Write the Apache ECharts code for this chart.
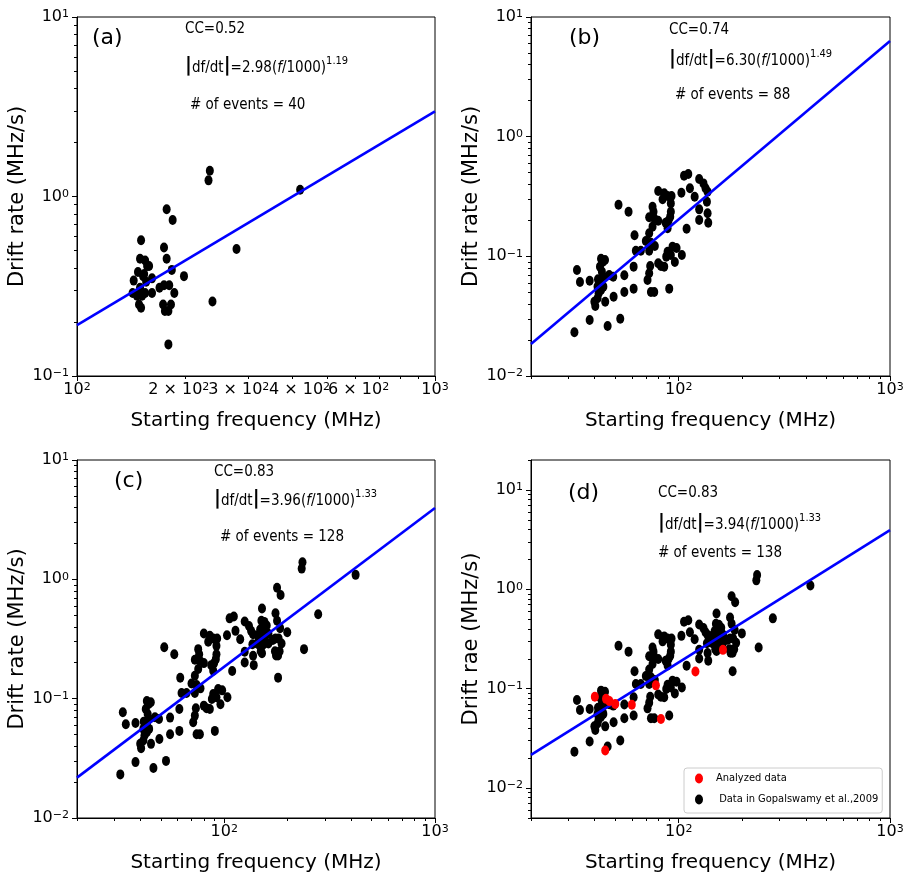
<!DOCTYPE html>
<html>
<head>
<meta charset="utf-8">
<script src="https://cdn.jsdelivr.net/npm/echarts@6/dist/echarts.min.js"></script>
<style>
  html, body { margin: 0; background: #fff; }
  #chart { width: 909px; height: 876px; }
</style>
</head>
<body>
<div id="chart"></div>
<script>
// panel (a): 40 events, [starting frequency MHz, drift rate MHz/s]
const aPoints = [
  [235, 1.39], [233, 1.23], [420, 1.09], [178, 0.85], [185, 0.74], [151, 0.57], [175, 0.52], [279, 0.51],
  [150, 0.45], [178, 0.45], [155, 0.44], [157, 0.41], [148, 0.38], [184, 0.39], [154, 0.37], [144, 0.34],
  [162, 0.35], [199, 0.36], [156, 0.335], [181, 0.32], [170, 0.31], [175, 0.32], [143, 0.29], [150, 0.29],
  [155, 0.29], [162, 0.29], [187, 0.29], [147, 0.28], [152, 0.28], [239, 0.26], [149, 0.25], [174, 0.25],
  [183, 0.25], [151, 0.24], [176, 0.23], [180, 0.23], [180, 0.15], [153, 0.36], [159, 0.41], [150, 0.31]
]
// panel (b): 88 events
const bPoints = [
  [106, 0.471], [111, 0.488], [125, 0.443], [131, 0.407], [134, 0.37], [137, 0.347], [113, 0.37], [103, 0.34],
  [80, 0.352], [85.4, 0.336], [88.6, 0.319], [92.5, 0.319], [83.9, 0.2995], [119, 0.315], [136, 0.286], [51.9, 0.27],
  [57.9, 0.236], [75.2, 0.26], [76, 0.236], [91.8, 0.236], [91.2, 0.2146], [125, 0.247], [137, 0.229], [72.5, 0.212],
  [76.6, 0.2077], [80, 0.1986], [89.5, 0.1986], [86.7, 0.191], [125, 0.201], [138, 0.191], [75.2, 0.177], [88.6, 0.1714],
  [109, 0.1703], [61.8, 0.1498], [69.9, 0.1342], [73.9, 0.13], [77.1, 0.122], [93.5, 0.1205], [97.7, 0.1174], [62.7, 0.1115],
  [66.2, 0.1115], [72.5, 0.1115], [88.6, 0.1094], [91.8, 0.1026], [103.5, 0.1026], [87.3, 0.0994], [95.9, 0.0897], [42.9, 0.0956],
  [43.8, 0.0903], [44.8, 0.0932], [80, 0.0874], [82.4, 0.083], [73.3, 0.083], [85.4, 0.082], [61.2, 0.082], [33, 0.0769],
  [42.4, 0.082], [43.3, 0.0745], [44, 0.0676], [72.5, 0.0721], [71.2, 0.0634], [46.9, 0.0698], [49, 0.0676], [55.3, 0.0694],
  [34.1, 0.061], [37.9, 0.0626], [41.5, 0.0642], [42.9, 0.0614], [44, 0.0558], [42.9, 0.0523], [61.2, 0.0537], [55.3, 0.0504],
  [73.9, 0.0504], [76.6, 0.0504], [90.2, 0.0537], [41.8, 0.0491], [41.3, 0.0446], [49.2, 0.046], [44.9, 0.0418], [40.3, 0.0385],
  [39.9, 0.0418], [37.9, 0.0294], [52.9, 0.0301], [46.1, 0.0262], [32.1, 0.0232], [91.8, 0.277], [41.3, 0.0558], [72.5, 0.1557]
]
// panel (d): newly analyzed events (red)
const redPoints = [
  [40.1, 0.083], [45.3, 0.079], [50.1, 0.07], [60, 0.069], [78, 0.108],
  [82.4, 0.0496], [120, 0.149], [162, 0.246], [44.9, 0.0239], [47, 0.075]
]
// panel (c) and black points of (d) = (a) + (b)
const allPoints = aPoints.concat(bPoints)

// fitted power laws, end points
const fitA = [[100, 0.192], [1000, 2.98]]
const fitB = [[20, 0.0185], [1000, 6.3]]
const fitC = [[20, 0.0218], [1000, 3.96]]
const fitD = [[20, 0.0216], [1000, 3.94]]

const panelTags = ['(a)', '(b)', '(c)', '(d)']
const ccTexts = ['CC=0.52', 'CC=0.74', 'CC=0.83', 'CC=0.83']
const fitCoefs = ['2.98', '6.30', '3.96', '3.94']
const fitExps = ['1.19', '1.49', '1.33', '1.33']
const eventCounts = [40, 88, 128, 138]
const yTitles = ['Drift rate (MHz/s)', 'Drift rate (MHz/s)', 'Drift rate (MHz/s)', 'Drift rae (MHz/s)']
const xTitle = 'Starting frequency (MHz)'
const legendNames = ['Analyzed data', ' Data in Gopalswamy et al.,2009']

const xLabelsA = [100, 200, 300, 400, 600, 1000]
const xLabelsB = [100, 1000]
const yLabelsA = [0.1, 1, 10]
const yLabelsB = [0.01, 0.1, 1, 10]

const FONT = 'DejaVu Sans'
const NARROW = '"DejaVu Sans Condensed", "Liberation Sans Narrow", "DejaVu Sans"'
const DOT = 'path://M0,5A4,5 0 1,1 8,5A4,5 0 1,1 0,5Z'
const BLUE = '#0000ff'

// crowded minor labels of panel (a) sit side by side, nudged off their ticks (px)
const labelNudge = { 200: -6, 300: -9, 400: 7, 600: 3 }

const panels = [
  { box: { left: 77, top: 17, width: 358, height: 359 }, x: [100, 1000], y: [0.1, 10],
    xLab: xLabelsA, yLab: yLabelsA, tag: [92, 38], cc: [185, 29], fit: [185, 66], ev: [190, 105] },
  { box: { left: 531, top: 17, width: 359, height: 359 }, x: [20, 1000], y: [0.01, 10],
    xLab: xLabelsB, yLab: yLabelsB, tag: [569, 38], cc: [669, 30], fit: [669, 59], ev: [675, 95] },
  { box: { left: 77, top: 460, width: 358, height: 358 }, x: [20, 1000], y: [0.01, 10],
    xLab: xLabelsB, yLab: yLabelsB, tag: [114, 481], cc: [214, 472], fit: [214, 499], ev: [220, 537] },
  { box: { left: 531, top: 460, width: 359, height: 358 }, x: [20, 1000], y: [0.005, 20],
    xLab: xLabelsB, yLab: yLabelsB, tag: [568, 493], cc: [658, 493], fit: [658, 523], ev: [658, 553] },
]

function minorValues(lo, hi) {
  const out = []
  for (let e = Math.floor(Math.log10(lo)) - 1; e <= Math.ceil(Math.log10(hi)); e++) {
    for (let m = 2; m <= 9; m++) {
      const v = +(m * Math.pow(10, e)).toPrecision(3)
      if (v >= lo * 0.999 && v <= hi * 1.001) out.push(v)
    }
  }
  return out
}

function sci(v) {
  const e = Math.floor(Math.log10(v) + 1e-9)
  const m = Math.round(v / Math.pow(10, e))
  const es = e < 0 ? '\u2212' + (-e) : '' + e
  return (m === 1 ? '{b|10}' : '{b|' + m + ' \u00d7 10}') + '{s|' + es + '}'
}

function sciNudged(v) {
  const key = Math.round(v)
  const d = labelNudge[key] || 0
  const txt = sci(v)
  if (d > 0) return '{g' + (2 * d) + '| }' + txt
  if (d < 0) return txt + '{g' + (-2 * d) + '| }'
  return txt
}

const TICK_RICH = {
  b: { fontFamily: FONT, fontSize: 16, color: '#000', lineHeight: 16, padding: [3, 0, 0, 0], verticalAlign: 'bottom' },
  s: { fontFamily: FONT, fontSize: 11, color: '#000', lineHeight: 11, verticalAlign: 'top' },
}
Object.values(labelNudge).forEach((d) => {
  TICK_RICH['g' + Math.abs(2 * d)] = { width: Math.abs(2 * d), fontSize: 11, lineHeight: 11 }
})

const NOTE_RICH = {
  t: { fontFamily: NARROW, fontSize: 15, fill: '#000', lineHeight: 16, padding: [4, 0, 0, 0], verticalAlign: 'bottom' },
  it: { fontFamily: NARROW, fontSize: 15, fontStyle: 'italic', fill: '#000', lineHeight: 16, padding: [4, 0, 0, 0], verticalAlign: 'bottom' },
  bar: { fontFamily: FONT, fontSize: 19, fontWeight: 'bold', fill: '#000', lineHeight: 20, verticalAlign: 'middle' },
  sup: { fontFamily: NARROW, fontSize: 11, fill: '#000', lineHeight: 11, verticalAlign: 'top' },
}

const grid = [], xAxis = [], yAxis = [], series = [], graphic = []
const scatterSets = [[aPoints], [bPoints], [allPoints], [allPoints, redPoints]]
const fits = [fitA, fitB, fitC, fitD]

panels.forEach((p, i) => {
  grid.push(Object.assign({ show: true, borderColor: '#000', borderWidth: 1, outerBoundsMode: 'none' }, p.box))
  const axisLine = { show: true, lineStyle: { color: '#000', width: 1 } }
  xAxis.push({
    type: 'log', gridIndex: i, position: 'bottom', min: p.x[0], max: p.x[1],
    name: xTitle, nameLocation: 'middle', nameGap: 35,
    nameTextStyle: { fontFamily: FONT, fontSize: 20, color: '#000' },
    axisLine, splitLine: { show: false },
    axisTick: { show: true, customValues: [100, 1000], length: 5, lineStyle: { color: '#000' } },
    axisLabel: { show: true, customValues: p.xLab, formatter: i === 0 ? sciNudged : sci, margin: 6, rich: TICK_RICH, hideOverlap: false },
  })
  xAxis.push({
    type: 'log', gridIndex: i, position: 'bottom', min: p.x[0], max: p.x[1],
    axisLine: { show: false }, splitLine: { show: false }, axisLabel: { show: false },
    axisTick: { show: true, customValues: minorValues(p.x[0], p.x[1]), length: 3, lineStyle: { color: '#000' } },
  })
  yAxis.push({
    type: 'log', gridIndex: i, position: 'left', min: p.y[0], max: p.y[1],
    name: yTitles[i], nameLocation: 'middle', nameGap: 48,
    nameTextStyle: { fontFamily: FONT, fontSize: 21, color: '#000' },
    axisLine, splitLine: { show: false },
    axisTick: { show: true, customValues: p.yLab, length: 5, lineStyle: { color: '#000' } },
    axisLabel: { show: true, customValues: p.yLab, formatter: sci, margin: 8, rich: TICK_RICH, align: 'right', hideOverlap: false },
  })
  yAxis.push({
    type: 'log', gridIndex: i, position: 'left', min: p.y[0], max: p.y[1],
    axisLine: { show: false }, splitLine: { show: false }, axisLabel: { show: false },
    axisTick: { show: true, customValues: minorValues(p.y[0], p.y[1]), length: 3, lineStyle: { color: '#000' } },
  })

  scatterSets[i].forEach((pts, k) => {
    const red = i === 3 && k === 1
    series.push({
      type: 'scatter', name: i === 3 ? (red ? legendNames[0] : legendNames[1]) : undefined,
      xAxisIndex: 2 * i, yAxisIndex: 2 * i, data: pts,
      symbol: DOT, symbolSize: [8, 10], silent: true, z: red ? 4 : 2,
      itemStyle: { color: red ? '#ff0000' : '#000', opacity: 1 },
    })
  })
  series.push({
    type: 'line', xAxisIndex: 2 * i, yAxisIndex: 2 * i, data: fits[i],
    showSymbol: false, symbol: 'none', silent: true, z: 3,
    lineStyle: { color: BLUE, width: 2.6 },
  })

  graphic.push(
    { type: 'text', x: p.tag[0], y: p.tag[1], style: { text: panelTags[i], fontFamily: FONT, fontSize: 22, fill: '#000', verticalAlign: 'middle' } },
    { type: 'text', x: p.cc[0], y: p.cc[1], style: { text: ccTexts[i], fontFamily: NARROW, fontSize: 15, fill: '#000', verticalAlign: 'middle' } },
    { type: 'text', x: p.fit[0], y: p.fit[1], style: {
        text: '{bar||}{t|df/dt}{bar||}{t|=' + fitCoefs[i] + '(}{it|f}{t|/1000)}{sup|' + fitExps[i] + '}',
        rich: NOTE_RICH, verticalAlign: 'middle' } },
    { type: 'text', x: p.ev[0], y: p.ev[1], style: { text: '# of events = ' + eventCounts[i], fontFamily: NARROW, fontSize: 15, fill: '#000', verticalAlign: 'middle' } },
  )
})

const chart = echarts.init(document.getElementById('chart'), null, { renderer: 'canvas' })
chart.setOption({
  animation: false,
  backgroundColor: '#fff',
  grid, xAxis, yAxis, series, graphic,
  legend: {
    data: legendNames, orient: 'vertical', left: 684, top: 768,
    padding: [5, 4, 8, 11], itemWidth: 24, itemHeight: 10, itemGap: 10,
    borderColor: '#cccccc', borderWidth: 1, borderRadius: 3, backgroundColor: '#fff',
    textStyle: { fontFamily: NARROW, fontSize: 11, color: '#000' },
    selectedMode: false,
  },
})
</script>
</body>
</html>
